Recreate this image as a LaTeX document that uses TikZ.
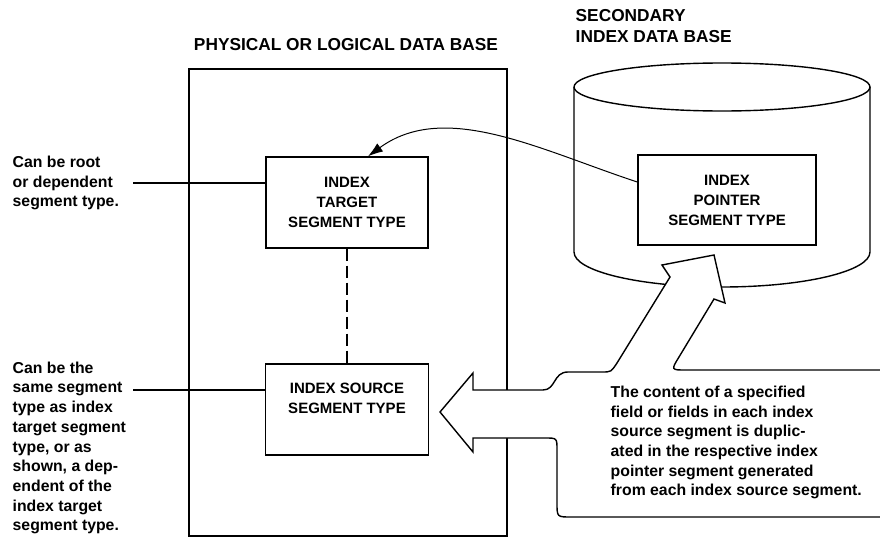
\documentclass[tikz,border=0pt]{standalone}
\usepackage{fontspec}
\setmainfont{Liberation Sans}
\usetikzlibrary{arrows.meta, positioning}

\begin{document}
\begin{tikzpicture}[
    x=1pt, y=-1pt, line width=1.4pt,
    box/.style={rectangle, draw, align=center, inner sep=0pt,
                font=\bfseries\fontsize{15}{20}\selectfont},
    note/.style={anchor=west, align=left, inner sep=0pt,
                 font=\bfseries\fontsize{15.8}{19.7}\selectfont},
    head/.style={inner sep=0pt, font=\bfseries\fontsize{17.3}{21}\selectfont},
    arr/.style={-{Latex[length=15pt, width=10pt]}, line width=1pt},
]
    \useasboundingbox (0,0) rectangle (880,538);

    \node[head] (phys) at (346,45) {PHYSICAL OR LOGICAL DATA BASE};
    \node[head, anchor=west, align=left] (secdb) at (575,26.5) {SECONDARY\\INDEX DATA BASE};

    \node[draw, minimum width=318pt, minimum height=467pt] (physdb) at (348,302.5) {};
    \node[box, minimum width=162pt, minimum height=91pt] (target) at (347,202.5) {INDEX\\TARGET\\SEGMENT TYPE};
    \node[box, minimum width=163pt, minimum height=91pt] (source) at (347,409.5) {};
    \node[box, draw=none] (sourcetxt) at (347,398) {INDEX SOURCE\\SEGMENT TYPE};

    % secondary index data base
    \draw (722,87) ellipse [x radius=148, y radius=24];
    \draw (574,87) -- (574,252) arc[start angle=180, end angle=0, x radius=148, y radius=35] -- (870,87);
    \node[box, minimum width=178pt, minimum height=90pt] (pointer) at (727,200) {INDEX\\POINTER\\SEGMENT TYPE};

    % broad arrow
    \draw[fill=white] (440,412) -- (473,373) -- (473,390) -- (543,390)
        .. controls (556,390) and (553,372) .. (568,372) -- (602,372)
        .. controls (611,372) .. (617,363) -- (670,277) -- (662,265)
        -- (714,255) -- (725,303) -- (714,299) -- (679,357)
        .. controls (671,370) .. (686,370) -- (900,370) -- (900,517)
        -- (571,517) .. controls (557,517) .. (557,503) -- (557,450)
        .. controls (557,438) .. (545,438) -- (473,438) -- (473,452) -- cycle;

    \node[note] (content) at (610,442.5) {The content of a specified\\field or fields in each index\\source segment is duplic-\\ated in the respective index\\pointer segment generated\\from each index source segment.};
    \node[note] (rootnote) at (12,183) {Can be root\\or dependent\\segment type.};
    \node[note] (samenote) at (12,448) {Can be the\\same segment\\type as index\\target segment\\type, or as\\shown, a dep-\\endent of the\\index target\\segment type.};

    \coordinate (rootend) at (133,183);
    \coordinate (sameend) at (133,390);
    \draw (rootend) -- (rootend -| target.west);
    \draw (sameend) -- (sameend -| source.west);
    \draw[dash pattern=on 12pt off 5pt] (target.south) -- (source.north);
    \draw[arr] ([yshift=18pt]pointer.west) .. controls (540,150) and (445,100) .. ([xshift=21pt]target.north);
\end{tikzpicture}
\end{document}
